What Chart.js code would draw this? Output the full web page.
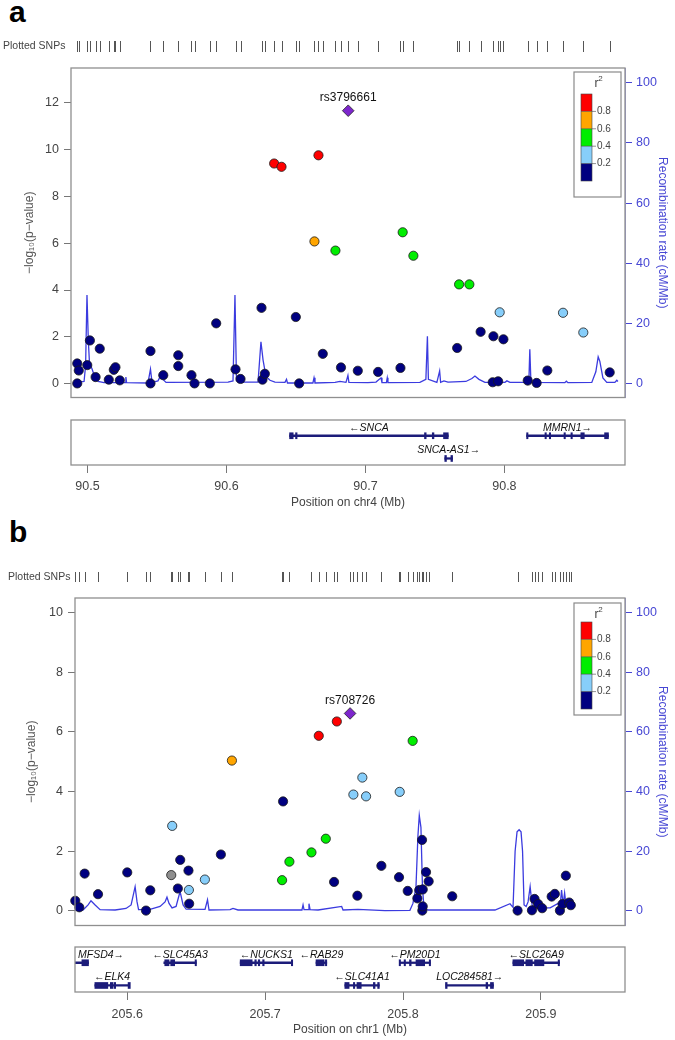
<!DOCTYPE html>
<html>
<head>
<meta charset="utf-8">
<script src="https://cdn.jsdelivr.net/npm/chart.js@4.4.0/dist/chart.umd.min.js"></script>
<style>
  body { margin: 0; background: #fff; }
  #page { position: relative; width: 675px; height: 1040px; overflow: hidden; font-family: "Liberation Sans", Arial, sans-serif; }
  .letter { position: absolute; font-weight: bold; font-size: 30px; line-height: 30px; }
  canvas { position: absolute; left: 0; }
</style>
</head>
<body>
<div id="page">
  <div class="letter" style="left:9px;top:-3px">a</div>
  <canvas id="mainA" width="675" height="380" style="top:30px"></canvas>
  <canvas id="genesA" width="675" height="105" style="top:410px"></canvas>
  <div class="letter" style="left:9px;top:517px">b</div>
  <canvas id="mainB" width="675" height="393" style="top:545px"></canvas>
  <canvas id="genesB" width="675" height="102" style="top:938px"></canvas>
</div>
<script>
// ---- panel a : chr4 (SNCA) ----
const aSnpPos = [90.4926, 90.4926, 90.4937, 90.4998, 90.5017, 90.5058, 90.5088, 90.5153, 90.5189, 90.5201,
  90.5232, 90.5453, 90.5453, 90.5545, 90.5653, 90.5653, 90.5748, 90.5770, 90.5880, 90.5926,
  90.6065, 90.6101, 90.6252, 90.6259, 90.6276, 90.6343, 90.6396, 90.6499, 90.6523, 90.6633,
  90.6662, 90.6693, 90.6784, 90.6824, 90.6945, 90.7091, 90.7252, 90.7268, 90.7345, 90.7660,
  90.7674, 90.7748, 90.7829, 90.7916, 90.7921, 90.7955, 90.7966, 90.7993, 90.8168, 90.8232,
  90.8309, 90.8422, 90.8568, 90.8758];
const aSnpLogP = [0.87, 0.02, 0.57, 0.80, 1.85, 0.29, 1.50, 0.18, 0.60, 0.71,
  0.15, 1.40, 0.02, 0.37, 1.22, 0.76, 0.37, 0.02, 0.02, 2.58,
  0.62, 0.21, 3.24, 0.18, 0.43, 9.39, 9.25, 2.85, 0.02, 6.07,
  9.74, 1.28, 5.68, 0.70, 0.56, 0.51, 0.68, 6.46, 5.46, 1.53,
  4.24, 4.24, 2.22, 0.07, 2.03, 0.11, 3.05, 1.90, 0.14, 0.04,
  0.57, 3.03, 2.19, 0.49];
const aSnpR2 = [0.1, 0.1, 0.1, 0.1, 0.1, 0.1, 0.1, 0.1, 0.1, 0.1,
  0.1, 0.1, 0.1, 0.1, 0.1, 0.1, 0.1, 0.1, 0.1, 0.1,
  0.1, 0.1, 0.1, 0.1, 0.1, 0.9, 0.9, 0.1, 0.1, 0.7,
  0.9, 0.1, 0.5, 0.1, 0.1, 0.1, 0.1, 0.5, 0.5, 0.1,
  0.5, 0.5, 0.1, 0.1, 0.1, 0.1, 0.3, 0.1, 0.1, 0.1,
  0.1, 0.3, 0.3, 0.1];
const aLeadName = 'rs3796661';
const aLeadPos = 90.6876;
const aLeadLogP = 11.64;

const aRecombPos = [90.4922, 90.4975, 90.4986, 90.4996, 90.5006, 90.5014, 90.5032, 90.5054, 90.5076, 90.5119,
  90.5270, 90.5276, 90.5281, 90.5435, 90.5453, 90.5464, 90.5507, 90.5529, 90.5543, 90.5565,
  90.6011, 90.6047, 90.6061, 90.6072, 90.6097, 90.6227, 90.6248, 90.6263, 90.6284, 90.6313,
  90.6349, 90.6421, 90.6432, 90.6439, 90.6622, 90.6630, 90.6637, 90.6781, 90.6817, 90.6860,
  90.6874, 90.6881, 90.7018, 90.7076, 90.7112, 90.7119, 90.7151, 90.7157, 90.7162, 90.7392,
  90.7435, 90.7446, 90.7453, 90.7514, 90.7534, 90.7541, 90.7565, 90.7594, 90.7723, 90.7766,
  90.7788, 90.7817, 90.7860, 90.8004, 90.8018, 90.8040, 90.8176, 90.8183, 90.8191, 90.8435,
  90.8446, 90.8457, 90.8629, 90.8658, 90.8675, 90.8687, 90.8709, 90.8737, 90.8795, 90.8809,
  90.8817];
const aRecombRate = [0.5, 0.8, 6, 29.5, 14, 7, 5, 2, 0.8, 0.4,
  0.4, 2.3, 0.4, 0.3, 4.9, 0.5, 1.0, 3.0, 1.5, 0.5,
  0.6, 1.0, 29.5, 1.0, 0.6, 0.6, 14, 8, 2.5, 1.2,
  0.6, 0.5, 1.5, 0.3, 0.3, 2.0, 0.3, 0.5, 0.8, 0.5,
  2.8, 0.5, 0.4, 0.6, 2.0, 0.4, 0.4, 2.0, 0.4, 0.5,
  1.5, 15.8, 1.5, 0.5, 4.3, 0.5, 1.0, 0.6, 0.8, 1.8,
  2.6, 1.5, 0.5, 0.5, 1.0, 0.5, 0.5, 11.5, 0.5, 0.4,
  0.9, 0.4, 0.5, 4, 9, 7.5, 2, 0.5, 0.5, 1.2,
  0.8];

const aGeneNames = ['SNCA', 'SNCA-AS1', 'MMRN1'];
const aGeneStart = [90.6454, 90.7571, 90.8160];
const aGeneEnd = [90.7596, 90.7627, 90.8749];
const aGeneStrand = [-1, 1, 1];
const aGeneRow = [1, 2, 1];
const aGeneExons = [
  [[90.6454, 90.6480], [90.6497, 90.6508], [90.7425, 90.7437], [90.7481, 90.7493], [90.7562, 90.7596]],
  [[90.7571, 90.7583], [90.7615, 90.7627]],
  [[90.8160, 90.8170], [90.8292, 90.8302], [90.8323, 90.8333], [90.8429, 90.8439], [90.8479, 90.8489], [90.8550, 90.8575], [90.8721, 90.8749]]
];
const aXTicks = [90.5, 90.6, 90.7, 90.8];
const aYTicks = [0, 2, 4, 6, 8, 10, 12];

// ---- panel b : chr1 (RAB29 / SLC41A1) ----
const bSnpPos = [205.5623, 205.5652, 205.5691, 205.5788, 205.6000, 205.6136, 205.6167, 205.6319, 205.6326, 205.6367,
  205.6384, 205.6444, 205.6447, 205.6449, 205.6563, 205.6679, 205.6759, 205.7123, 205.7130, 205.7176,
  205.7336, 205.7389, 205.7440, 205.7500, 205.7520, 205.7640, 205.7669, 205.7705, 205.7732, 205.7843,
  205.7971, 205.7976, 205.8034, 205.8070, 205.8104, 205.8118, 205.8138, 205.8140, 205.8143, 205.8143,
  205.8167, 205.8186, 205.8357, 205.8831, 205.8935, 205.8954, 205.8980, 205.9009, 205.9078, 205.9101,
  205.9138, 205.9157, 205.9181, 205.9205, 205.9217];
const bSnpLogP = [0.34, 0.12, 1.25, 0.56, 1.29, 0.01, 0.69, 1.20, 2.85, 0.75,
  1.71, 1.35, 0.70, 0.24, 1.05, 1.89, 5.04, 1.03, 3.67, 1.65,
  1.96, 5.87, 2.42, 0.97, 6.35, 3.90, 0.51, 4.47, 3.84, 1.51,
  1.13, 3.99, 0.67, 5.70, 0.42, 0.70, 2.38, 0.01, 0.15, 0.72,
  1.30, 0.99, 0.49, 0.01, 0.02, 0.40, 0.23, 0.09, 0.48, 0.57,
  0.01, 0.23, 1.18, 0.28, 0.19];
const bSnpR2 = [0.1, 0.1, 0.1, 0.1, 0.1, 0.1, 0.1, null, 0.3, 0.1,
  0.1, 0.1, 0.3, 0.1, 0.3, 0.1, 0.7, 0.5, 0.1, 0.5,
  0.5, 0.9, 0.5, 0.1, 0.9, 0.3, 0.1, 0.3, 0.3, 0.1,
  0.1, 0.3, 0.1, 0.5, 0.1, 0.1, 0.1, 0.1, 0.1, 0.1,
  0.1, 0.1, 0.1, 0.1, 0.1, 0.1, 0.1, 0.1, 0.1, 0.1,
  0.1, 0.1, 0.1, 0.1, 0.1];
const bLeadName = 'rs708726';
const bLeadPos = 205.7616;
const bLeadLogP = 6.62;

const bRecombPos = [205.5621, 205.5679, 205.5716, 205.5737, 205.5767, 205.5803, 205.5912, 205.5991, 205.6028, 205.6057,
  205.6071, 205.6082, 205.6165, 205.6238, 205.6274, 205.6288, 205.6303, 205.6325, 205.6354, 205.6383,
  205.6405, 205.6427, 205.6564, 205.6582, 205.6593, 205.6746, 205.6767, 205.6803, 205.7267, 205.7275,
  205.7282, 205.7311, 205.7318, 205.7326, 205.7384, 205.7555, 205.7565, 205.7673, 205.7869, 205.8050,
  205.8072, 205.8094, 205.8108, 205.8118, 205.8130, 205.8141, 205.8152, 205.8181, 205.8667, 205.8776,
  205.8798, 205.8813, 205.8827, 205.8842, 205.8856, 205.8867, 205.8878, 205.8893, 205.8907, 205.8922,
  205.8936, 205.8958, 205.9067, 205.9125, 205.9139, 205.9150, 205.9161, 205.9172, 205.9182, 205.9211,
  205.9240];
const bRecombRate = [0.3, 0.3, 2.0, 3.4, 2.0, 0.4, 0.3, 0.8, 2.0, 8.1,
  3.0, 0.4, 0.5, 1.5, 3.0, 4.6, 2.5, 1.0, 1.5, 6.5,
  2.0, 0.6, 0.5, 3.7, 0.3, 0.4, 0.8, 0.3, 0.3, 2.0,
  0.4, 0.4, 2.4, 0.4, 0.3, 1.5, 0.3, 0.5, 0.1, 0.2,
  2.5, 8, 25, 32, 28, 8, 1.0, 0.3, 0.3, 2.4,
  1.2, 20, 26.5, 27.2, 26.5, 20, 2.0, 1.5, 3.0, 8.1,
  2.0, 1.0, 1.0, 2.5, 1.5, 7.0, 2.0, 6.0, 2.0, 1.5,
  1.0];

const bGeneNames = ['MFSD4', 'ELK4', 'SLC45A3', 'NUCKS1', 'RAB29', 'SLC41A1', 'PM20D1', 'LOC284581', 'SLC26A9'];
const bGeneStart = [205.5380, 205.5765, 205.6265, 205.6819, 205.7369, 205.7578, 205.7975, 205.8312, 205.8797];
const bGeneEnd = [205.5719, 205.6015, 205.6500, 205.7197, 205.7447, 205.7828, 205.8197, 205.8656, 205.9135];
const bGeneStrand = [1, -1, -1, -1, -1, -1, -1, 1, -1];
const bGeneRow = [1, 2, 1, 1, 1, 2, 1, 2, 1];
const bGeneExons = [
  [[205.5671, 205.5719]],
  [[205.5765, 205.5859], [205.5877, 205.5896], [205.5904, 205.5916], [205.6006, 205.6022]],
  [[205.6272, 205.6303], [205.6315, 205.6344], [205.6492, 205.6502]],
  [[205.6819, 205.6906], [205.6925, 205.6936], [205.6950, 205.6961], [205.6982, 205.6993], [205.7190, 205.7200]],
  [[205.7369, 205.7428], [205.7437, 205.7447]],
  [[205.7578, 205.7609], [205.7640, 205.7650], [205.7666, 205.7697], [205.7785, 205.7797], [205.7816, 205.7828]],
  [[205.7972, 205.7982], [205.8008, 205.8018], [205.8047, 205.8059], [205.8094, 205.8157], [205.8190, 205.8200]],
  [[205.8308, 205.8320], [205.8602, 205.8614], [205.8634, 205.8656]],
  [[205.8797, 205.8875], [205.8891, 205.8938], [205.8954, 205.9022], [205.9125, 205.9135]]
];
const bXTicks = [205.6, 205.7, 205.8, 205.9];
const bYTicks = [0, 2, 4, 6, 8, 10];

const recombTicks = [0, 20, 40, 60, 80, 100];
const ldBreaks = [0.8, 0.6, 0.4, 0.2];

// colours
const ldColors = ['#FF0000', '#FFA500', '#00EE00', '#87CEFA', '#000080'];
const recombColor = '#3b3bdf';
const recombAxisColor = '#4747d4';
const geneColor = '#1c1c7a';
const FONT = '"Liberation Sans", Arial, sans-serif';

Chart.defaults.font.family = FONT;

function ldColor(r2) {
  if (r2 === null) return '#8e8e8e';
  for (let i = 0; i < ldBreaks.length; i++) {
    if (r2 >= ldBreaks[i]) return ldColors[i];
  }
  return ldColors[4];
}

const boxPlugin = {
  id: 'box',
  afterDraw(chart) {
    const { ctx, chartArea: a } = chart;
    ctx.save();
    ctx.strokeStyle = '#8f8f8f';
    ctx.lineWidth = 1.3;
    ctx.strokeRect(a.left, a.top, a.right - a.left, a.bottom - a.top);
    ctx.restore();
  }
};

function makeRug(positions, top, bottom, labelX) {
  return {
    id: 'rug',
    afterDraw(chart) {
      const { ctx } = chart;
      const xs = chart.scales.x;
      ctx.save();
      ctx.fillStyle = '#444';
      ctx.font = '10.5px ' + FONT;
      ctx.textBaseline = 'middle';
      ctx.fillText('Plotted SNPs', labelX, (top + bottom) / 2);
      ctx.strokeStyle = '#555';
      ctx.lineWidth = 1;
      positions.forEach(p => {
        const px = Math.round(xs.getPixelForValue(p)) + 0.5;
        ctx.beginPath();
        ctx.moveTo(px, top);
        ctx.lineTo(px, bottom);
        ctx.stroke();
      });
      ctx.restore();
    }
  };
}

function makeLdLegend(boxTop, boxHeight, barTop) {
  return {
    id: 'ldLegend',
    afterDraw(chart) {
      const { ctx, chartArea: a } = chart;
      const bx = a.right - 51, bw = 47, by = a.top + boxTop;
      const segH = 17.4, barX = bx + 7, barW = 11, barY = a.top + barTop;
      ctx.save();
      ctx.fillStyle = '#fff';
      ctx.fillRect(bx, by, bw, boxHeight);
      ctx.strokeStyle = '#8a8a8a';
      ctx.lineWidth = 1.2;
      ctx.strokeRect(bx, by, bw, boxHeight);
      ldColors.forEach((c, i) => {
        ctx.fillStyle = c;
        ctx.fillRect(barX, barY + i * segH, barW, segH);
      });
      ctx.strokeStyle = '#444';
      ctx.lineWidth = 0.6;
      ctx.strokeRect(barX, barY, barW, segH * 5);
      ctx.fillStyle = '#444';
      ctx.font = '10px ' + FONT;
      ctx.textBaseline = 'middle';
      ldBreaks.forEach((b, i) => {
        const y = barY + (i + 1) * segH;
        ctx.beginPath();
        ctx.moveTo(barX, y);
        ctx.lineTo(barX + barW + 4, y);
        ctx.stroke();
        ctx.fillText(b.toFixed(1), barX + barW + 5, y);
      });
      ctx.textAlign = 'center';
      ctx.font = '12px ' + FONT;
      ctx.fillText('r', bx + bw / 2 - 1, by + 12);
      ctx.font = '8px ' + FONT;
      ctx.fillText('2', bx + bw / 2 + 3, by + 7);
      ctx.restore();
    }
  };
}

function makeLeadLabel(name, pos, logp) {
  return {
    id: 'leadLabel',
    afterDatasetsDraw(chart) {
      const { ctx } = chart;
      const x = chart.scales.x.getPixelForValue(pos);
      const y = chart.scales.y.getPixelForValue(logp);
      ctx.save();
      ctx.fillStyle = '#111';
      ctx.font = '12px ' + FONT;
      ctx.textAlign = 'center';
      ctx.textBaseline = 'middle';
      ctx.fillText(name, x, y - 13);
      ctx.restore();
    }
  };
}

function drawMain(id, p) {
  new Chart(document.getElementById(id), {
    type: 'scatter',
    data: {
      datasets: [
        {
          type: 'line',
          data: p.recPos.map((x, i) => ({ x, y: p.recRate[i] })),
          yAxisID: 'y2',
          borderColor: recombColor,
          borderWidth: 1.3,
          pointRadius: 0,
          tension: 0,
          order: 3
        },
        {
          data: p.pos.map((x, i) => ({ x, y: p.logp[i] })),
          yAxisID: 'y',
          backgroundColor: ctx => ldColor(p.r2[ctx.dataIndex]),
          borderColor: '#1a1a1a',
          borderWidth: 0.8,
          pointRadius: 4.6,
          pointHoverRadius: 4.6,
          clip: false,
          order: 2
        },
        {
          data: [{ x: p.leadPos, y: p.leadLogP }],
          yAxisID: 'y',
          pointStyle: 'rectRot',
          backgroundColor: '#7d26cd',
          borderColor: '#222',
          borderWidth: 0.8,
          pointRadius: 5.8,
          clip: false,
          order: 1
        }
      ]
    },
    options: {
      responsive: false,
      animation: false,
      events: [],
      layout: { padding: { top: p.padTop, bottom: p.padBottom, left: 0, right: 0 } },
      plugins: { legend: { display: false }, tooltip: { enabled: false } },
      scales: {
        x: { type: 'linear', min: p.xMin, max: p.xMax, display: false },
        y: {
          type: 'linear', position: 'left', min: p.yMin, max: p.yMax,
          afterFit: s => { s.width = p.leftW; },
          afterBuildTicks: s => { s.ticks = p.yTicks.map(v => ({ value: v })); },
          grid: { drawOnChartArea: false, tickLength: 7, color: '#777' },
          border: { display: false },
          ticks: { color: '#444', font: { size: 12.5 }, padding: 5 },
          title: { display: true, text: '\u2212log\u2081\u2080(p\u2212value)', color: '#555', font: { size: 12 }, padding: { top: p.leftTitlePad, bottom: 0 } }
        },
        y2: {
          type: 'linear', position: 'right', min: p.rMin, max: p.rMax,
          afterFit: s => { s.width = 50; },
          afterBuildTicks: s => { s.ticks = recombTicks.map(v => ({ value: v })); },
          grid: { drawOnChartArea: false, tickLength: 7, color: recombAxisColor },
          border: { display: true, color: '#9a9ae0', width: 1 },
          ticks: { color: recombAxisColor, font: { size: 12.5 }, padding: 4 },
          title: { display: true, text: 'Recombination rate (cM/Mb)', color: recombAxisColor, font: { size: 12 }, padding: { top: 5, bottom: 0 } }
        }
      }
    },
    plugins: [boxPlugin, makeRug(p.pos.concat([p.leadPos]), p.rugTop, p.rugBottom, p.rugLabelX),
      makeLdLegend(p.legTop, p.legH, p.legBarTop), makeLeadLabel(p.leadName, p.leadPos, p.leadLogP)]
  });
}

function rowValue(row) {
  return row === 1 ? 2.6 : 0.58;
}

function makeGeneLabels(g) {
  return {
    id: 'geneLabels',
    afterDatasetsDraw(chart) {
      const { ctx, chartArea: a } = chart;
      const xs = chart.scales.x, ys = chart.scales.y;
      ctx.save();
      ctx.font = 'italic 10.5px ' + FONT;
      ctx.fillStyle = '#111';
      ctx.textBaseline = 'middle';
      g.names.forEach((n, i) => {
        const label = g.strand[i] < 0 ? '\u2190' + n : n + '\u2192';
        const s = Math.max(g.start[i], xs.min), e = Math.min(g.end[i], xs.max);
        const w = ctx.measureText(label).width;
        let left = xs.getPixelForValue((s + e) / 2) - w / 2;
        left = Math.max(a.left + 3, Math.min(a.right - 3 - w, left));
        ctx.fillText(label, left, ys.getPixelForValue(rowValue(g.row[i])) - 8);
      });
      ctx.restore();
    }
  };
}

function drawGenes(id, g) {
  const introns = g.names.map((n, i) => ({ x: [g.start[i], g.end[i]], y: rowValue(g.row[i]) }));
  const exons = [];
  g.exons.forEach((list, i) => list.forEach(ex => exons.push({ x: ex, y: rowValue(g.row[i]) })));
  new Chart(document.getElementById(id), {
    type: 'bar',
    data: {
      datasets: [
        { data: introns, backgroundColor: geneColor, barThickness: 1.6, grouped: false, borderWidth: 0 },
        { data: exons, backgroundColor: geneColor, barThickness: 6, grouped: false, borderWidth: 0 }
      ]
    },
    options: {
      indexAxis: 'y',
      responsive: false,
      animation: false,
      events: [],
      layout: { padding: { top: g.padTop, left: g.leftW, right: 50, bottom: 0 } },
      plugins: { legend: { display: false }, tooltip: { enabled: false } },
      scales: {
        x: {
          type: 'linear', position: 'bottom', min: g.xMin, max: g.xMax,
          afterFit: s => { s.height = g.axisH; },
          afterBuildTicks: s => { s.ticks = g.xTicks.map(v => ({ value: v })); },
          grid: { drawOnChartArea: false, tickLength: 8, color: '#777' },
          border: { display: false },
          ticks: { color: '#444', font: { size: 12.5 }, padding: g.tickPad, maxRotation: 0, callback: v => v.toFixed(1) },
          title: { display: true, text: g.title, color: '#444', font: { size: 12 }, padding: { top: 0, bottom: g.titlePad } }
        },
        y: { type: 'linear', min: 0, max: 4, offset: false, display: false }
      }
    },
    plugins: [boxPlugin, makeGeneLabels(g)]
  });
}

drawMain('mainA', {
  pos: aSnpPos, logp: aSnpLogP, r2: aSnpR2,
  leadName: aLeadName, leadPos: aLeadPos, leadLogP: aLeadLogP,
  recPos: aRecombPos, recRate: aRecombRate,
  xMin: 90.4881, xMax: 90.8868, yMin: -0.58, yMax: 13.46, rMin: -4.52, rMax: 104.9,
  yTicks: aYTicks, leftW: 71, leftTitlePad: 22,
  padTop: 38, padBottom: 5,
  rugTop: 11, rugBottom: 22, rugLabelX: 3,
  legTop: 4, legH: 125, legBarTop: 26
});
drawGenes('genesA', {
  names: aGeneNames, start: aGeneStart, end: aGeneEnd, strand: aGeneStrand, row: aGeneRow, exons: aGeneExons,
  xMin: 90.4881, xMax: 90.8868, xTicks: aXTicks, title: 'Position on chr4 (Mb)',
  leftW: 71, padTop: 10, axisH: 50, tickPad: 6, titlePad: 5
});
drawMain('mainB', {
  pos: bSnpPos, logp: bSnpLogP, r2: bSnpR2,
  leadName: bLeadName, leadPos: bLeadPos, leadLogP: bLeadLogP,
  recPos: bRecombPos, recRate: bRecombRate,
  xMin: 205.5621, xMax: 205.9610, yMin: -0.49, yMax: 10.49, rMin: -4.9, rMax: 104.9,
  yTicks: bYTicks, leftW: 75, leftTitlePad: 24,
  padTop: 53, padBottom: 5,
  rugTop: 27, rugBottom: 37, rugLabelX: 8,
  legTop: 5, legH: 112, legBarTop: 24
});
drawGenes('genesB', {
  names: bGeneNames, start: bGeneStart, end: bGeneEnd, strand: bGeneStrand, row: bGeneRow, exons: bGeneExons,
  xMin: 205.5621, xMax: 205.9610, xTicks: bXTicks, title: 'Position on chr1 (Mb)',
  leftW: 75, padTop: 9, axisH: 48, tickPad: 7, titlePad: 3
});
</script>
</body>
</html>
